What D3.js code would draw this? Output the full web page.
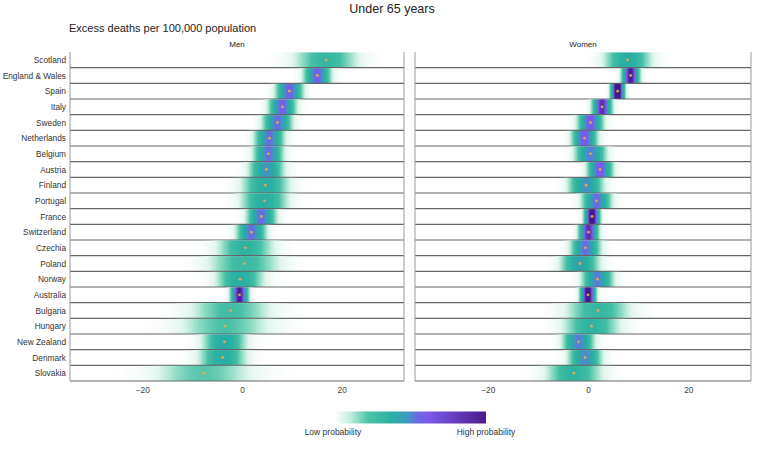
<!DOCTYPE html>
<html><head><meta charset="utf-8">
<script src="https://cdn.jsdelivr.net/npm/d3@7"></script>
<style>body{margin:0;background:#fff}svg{display:block;font-family:"Liberation Sans",Arial,sans-serif}</style>
</head><body><svg id="c" width="784" height="453"></svg>
<script>
const countries = ["Scotland","England & Wales","Spain","Italy","Sweden","Netherlands","Belgium","Austria","Finland","Portugal","France","Switzerland","Czechia","Poland","Norway","Australia","Bulgaria","Hungary","New Zealand","Denmark","Slovakia"];
const menMean = [16.9,15.1,9.5,8.1,7.1,5.5,5.3,4.9,4.7,4.5,3.9,1.9,0.7,0.5,-0.4,-0.5,-2.3,-3.4,-3.5,-3.9,-7.7];
const menSd   = [3.5,1.4,1.4,1.4,1.5,1.5,1.5,1.8,2.5,2.5,1.5,1.5,3.0,4.0,2.5,0.9,4.5,5.0,2.3,2.5,5.5];
const womenMean = [7.9,8.5,5.9,2.8,0.5,-0.7,0.5,2.4,-0.4,1.7,0.8,0.1,-0.5,-1.6,1.9,0.0,2.0,0.7,-1.9,-0.6,-2.8];
const womenSd   = [2.5,0.9,0.7,1.0,1.3,1.3,1.6,1.3,1.8,1.5,0.8,1.0,1.5,2.0,1.6,0.8,3.5,3.0,1.6,1.7,3.0];
const panels = ["Men","Women"];
const xTicks = [-20,0,20];
const title = "Under 65 years";
const subtitle = "Excess deaths per 100,000 population";
const legendLabels = ["Low probability","High probability"];

const svg = d3.select("#c");
const plotTop = 52, plotBottom = 381;
const y = d3.scaleBand().domain(countries).range([plotTop,plotBottom]).padding(0);
const panelX = [[70,404],[415,751]];
const domain = [-34.5,32.5];

const stops = [[0,"rgba(255,255,255,0)"],[0.04,"#e2f6ee"],[0.1,"#8fdcc4"],[0.18,"#45bfa5"],[0.3,"#2cb2a0"],[0.42,"#2ba7a6"],[0.52,"#4a8ccc"],[0.6,"#6e66e4"],[0.68,"#7b5ae8"],[1,"#43198a"]];
const tcol = d3.scaleLinear().domain(stops.map(s=>s[0])).range(stops.map(s=>s[1])).interpolate(d3.interpolateRgb).clamp(true);
const dens = d3.scaleLinear().domain([0,0.45]).range([0,1]).clamp(true);

svg.append("text").attr("x",392).attr("y",13).attr("text-anchor","middle").attr("font-size",12.5).attr("fill","#222").text(title);
svg.append("text").attr("x",69).attr("y",32).attr("font-size",11).attr("fill","#222").text(subtitle);

countries.forEach(c=>{
  svg.append("text").attr("x",66).attr("y",y(c)+y.bandwidth()/2+3).attr("text-anchor","end").attr("font-size",8.3).attr("fill","#333").text(c);
});

const data = [[menMean,menSd],[womenMean,womenSd]];
panels.forEach((p,pi)=>{
  const x = d3.scaleLinear().domain(domain).range(panelX[pi]);
  const g = svg.append("g");
  g.append("text").attr("x",(panelX[pi][0]+panelX[pi][1])/2).attr("y",47).attr("text-anchor","middle").attr("font-size",8).attr("fill","#222").text(p);
  const [means,sds] = data[pi];
  const step = (domain[1]-domain[0])/(panelX[pi][1]-panelX[pi][0]);
  countries.forEach((c,i)=>{
    const m = means[i], s = sds[i];
    const vals = d3.range(domain[0],domain[1],step);
    g.selectAll(null).data(vals).join("rect")
      .attr("x",v=>x(v)).attr("width",x(domain[0]+step)-x(domain[0])+0.4)
      .attr("y",y(c)+0.5).attr("height",y.bandwidth()-0.5)
      .attr("fill",v=>{const d=Math.exp(-0.5*((v+step/2-m)/s)**2)/(s*Math.sqrt(2*Math.PI));return tcol(dens(d));});
    g.append("line").attr("x1",panelX[pi][0]).attr("x2",panelX[pi][1]).attr("y1",y(c)+y.bandwidth()).attr("y2",y(c)+y.bandwidth()).attr("stroke","#666").attr("stroke-width",1.1);
    g.append("circle").attr("cx",x(m)).attr("cy",y(c)+y.bandwidth()/2).attr("r",1.4).attr("fill","#f0a848").attr("opacity",0.9);
  });
  [0,1].forEach(k=>g.append("line").attr("x1",panelX[pi][k]).attr("x2",panelX[pi][k]).attr("y1",plotTop).attr("y2",plotBottom).attr("stroke","#999").attr("stroke-width",1));
  const ax = g.append("g").attr("transform",`translate(0,${plotBottom})`).call(d3.axisBottom(x).tickValues(xTicks).tickSize(0).tickPadding(6).tickFormat(d=>d3.format("d")(d).replace("-","\u2212")));
  ax.select(".domain").remove();
  ax.selectAll("text").attr("font-size",8.3).attr("fill","#444").attr("font-family","Liberation Sans, Arial, sans-serif");
});

// legend
const defs = svg.append("defs");
const lg = defs.append("linearGradient").attr("id","lg");
const legStops = [[0,"#ffffff"],[0.1,"#c4eedf"],[0.22,"#4cc2a6"],[0.38,"#2cb0a2"],[0.48,"#3e98c2"],[0.55,"#6e66e4"],[0.62,"#7b5ae8"],[1,"#4a1c8c"]];
legStops.forEach(s=>lg.append("stop").attr("offset",s[0]*100+"%").attr("stop-color",s[1]));
const lx = d3.scaleLinear().domain([0,1]).range([335,486]);
svg.append("rect").attr("x",lx(0)).attr("y",411.5).attr("width",lx(1)-lx(0)).attr("height",12).attr("fill","url(#lg)");
svg.append("text").attr("x",lx(0)-2).attr("y",435).attr("text-anchor","middle").attr("font-size",8.5).attr("fill","#333").text(legendLabels[0]);
svg.append("text").attr("x",lx(1)).attr("y",435).attr("text-anchor","middle").attr("font-size",8.5).attr("fill","#333").text(legendLabels[1]);
</script></body></html>
